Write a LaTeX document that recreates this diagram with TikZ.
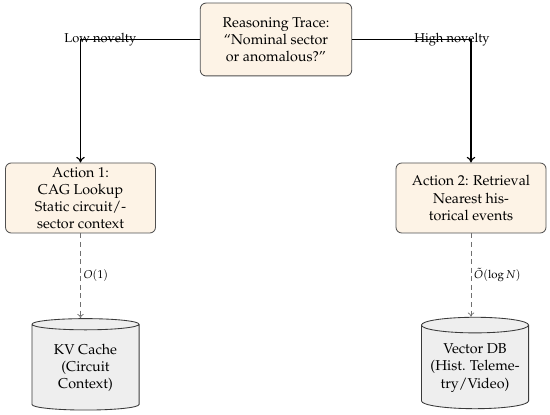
\documentclass[tikz,border=0pt]{standalone}
\usepackage[T1]{fontenc}
\usepackage{mathpazo}
\usetikzlibrary{shapes.geometric,arrows.meta}
\definecolor{boxfill}{HTML}{FDF3E6}
\definecolor{boxdraw}{HTML}{505050}
\definecolor{cylfill}{HTML}{EEEEEE}
\definecolor{cyldraw}{HTML}{3A3A3A}
\definecolor{dashcol}{HTML}{707070}
\begin{document}
\begin{tikzpicture}[x=0.7pt,y=-0.7pt,
  procbox/.style={draw=boxdraw, fill=boxfill, rounded corners=4pt, align=center,
    line width=0.6pt, inner xsep=2pt, inner ysep=2pt},
  store/.style={cylinder, shape border rotate=90, aspect=0.17, draw=cyldraw,
    fill=cylfill, align=center, line width=0.6pt, minimum width=75pt, minimum height=64pt, inner sep=1pt},
  flow/.style={line width=0.8pt, -{To[length=4pt,width=6pt]}},
  lookup/.style={draw=dashcol, line width=0.5pt, dash pattern=on 3.5pt off 2.5pt,
    -{To[length=3pt,width=4.5pt]}},
  edgelbl/.style={font=\small, inner sep=0pt},
  costlbl/.style={font=\footnotesize, inner sep=2pt}]
\useasboundingbox (0,0) rectangle (550,415);

\node[procbox, minimum width=106pt, minimum height=51pt] (trace) at (276,39.5)
  {Reasoning Trace:\\``Nominal sector\\or anomalous?''};
\node[procbox, minimum width=105pt, minimum height=49pt] (act1) at (80.5,198)
  {Action 1:\\CAG Lookup\\Static circuit/-\\sector context};
\node[procbox, minimum width=105pt, minimum height=49pt] (act2) at (471,198)
  {Action 2: Retrieval\\Nearest his-\\torical events};

\node[store] (kv) at (85.5,368) {KV Cache\\(Circuit\\Context)};
\node[store] (vdb) at (475,368) {Vector DB\\(Hist. Teleme-\\try/Video)};

\draw[flow] (trace.west) -| (act1.north)
  node[edgelbl, pos=0.417] {Low novelty};
\draw[flow] (trace.east) -| (act2.north)
  node[edgelbl, pos=0.42] {High novelty};

\draw[lookup] (act1.south) -- (act1.south |- kv.north)
  node[costlbl, midway, right] {$O(1)$};
\draw[lookup] (act2.south) -- (act2.south |- vdb.north)
  node[costlbl, midway, right] {$\tilde{O}(\log N)$};
\end{tikzpicture}
\end{document}
